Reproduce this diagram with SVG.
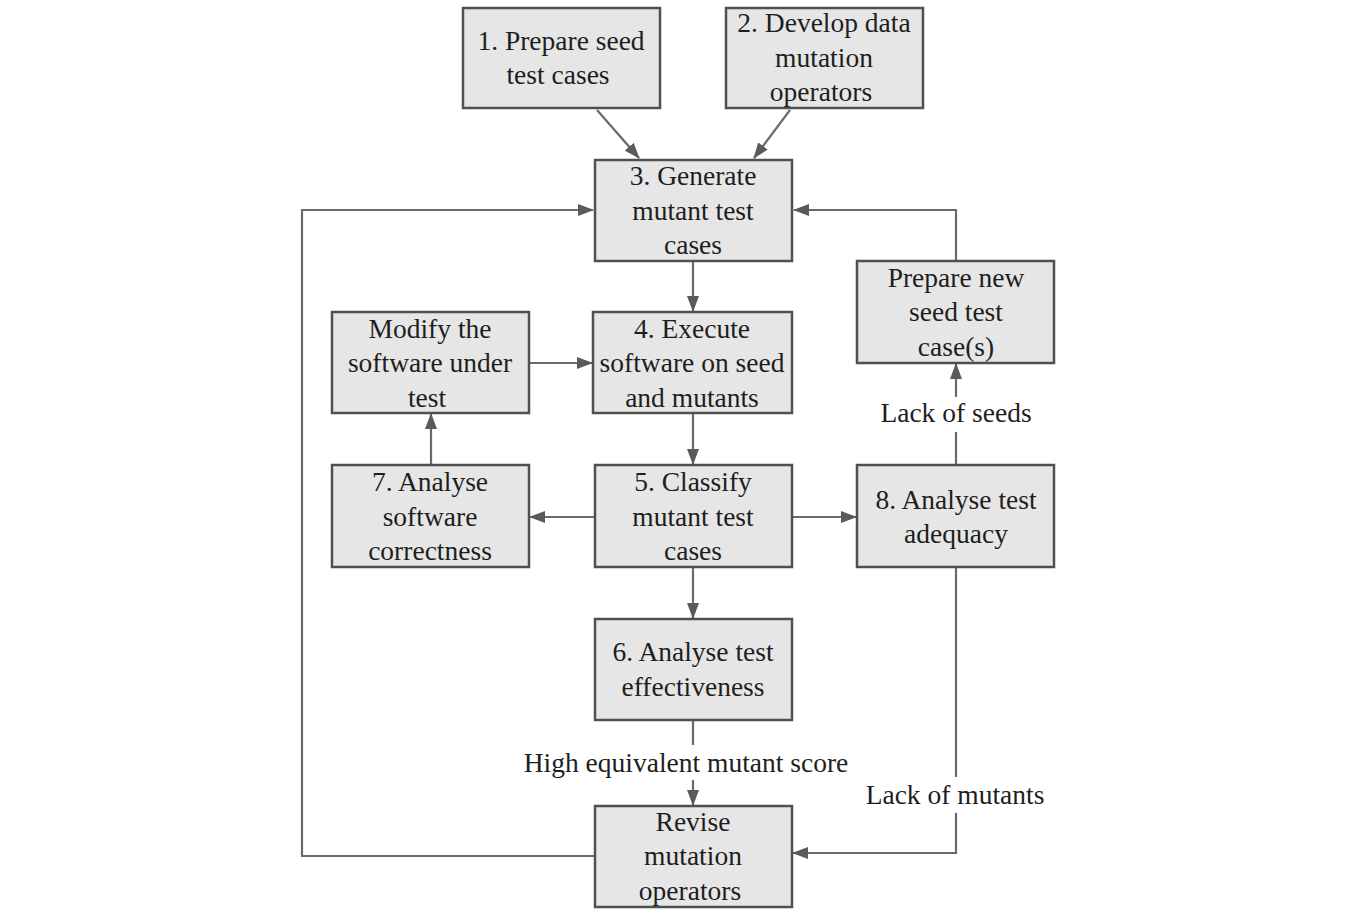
<svg xmlns="http://www.w3.org/2000/svg" width="1350" height="915" viewBox="0 0 1350 915">
<style>
.box{fill:#e6e6e6;stroke:#505050;stroke-width:2.5}
.t{font-family:"Liberation Serif","Times New Roman",serif;font-size:27.5px;fill:#1e1e1e;text-anchor:middle}
.c{fill:none;stroke:#6a6a6a;stroke-width:2.2}
</style>
<defs>
<marker id="ah" markerWidth="16" markerHeight="12" refX="15" refY="6" orient="auto" markerUnits="userSpaceOnUse">
<path d="M0,0 L16,6 L0,12 Z" fill="#5a5a5a"/>
</marker>
</defs>
<rect width="1350" height="915" fill="#ffffff"/>
<g id="connectors">
<line class="c" x1="597" y1="110" x2="639" y2="158" marker-end="url(#ah)"/>
<line class="c" x1="790" y1="110" x2="754" y2="158" marker-end="url(#ah)"/>
<polyline class="c" points="595,856 302,856 302,210 593,210" marker-end="url(#ah)"/>
<polyline class="c" points="956,261 956,210 794,210" marker-end="url(#ah)"/>
<line class="c" x1="693" y1="262" x2="693" y2="311" marker-end="url(#ah)"/>
<line class="c" x1="530" y1="363" x2="592" y2="363" marker-end="url(#ah)"/>
<line class="c" x1="693" y1="414" x2="693" y2="464" marker-end="url(#ah)"/>
<line class="c" x1="595" y1="517" x2="530" y2="517" marker-end="url(#ah)"/>
<line class="c" x1="431" y1="465" x2="431" y2="414" marker-end="url(#ah)"/>
<line class="c" x1="792" y1="517" x2="856" y2="517" marker-end="url(#ah)"/>
<line class="c" x1="956" y1="465" x2="956" y2="432"/>
<line class="c" x1="956" y1="397" x2="956" y2="364" marker-end="url(#ah)"/>
<line class="c" x1="956" y1="568" x2="956" y2="777"/>
<polyline class="c" points="956,813 956,853 793,853" marker-end="url(#ah)"/>
<line class="c" x1="693" y1="568" x2="693" y2="618" marker-end="url(#ah)"/>
<line class="c" x1="693" y1="721" x2="693" y2="745"/>
<line class="c" x1="693" y1="780" x2="693" y2="805" marker-end="url(#ah)"/>
<text class="t" x="686" y="772">High equivalent mutant score</text>
<text class="t" x="956" y="422">Lack of seeds</text>
<text class="t" x="955" y="804">Lack of mutants</text>
</g>
<g id="n1"><rect class="box" x="463" y="8" width="197" height="100"/>
<text class="t" x="561" y="50">1. Prepare seed</text><text class="t" x="558" y="84">test cases</text></g>
<g id="n2"><rect class="box" x="726" y="8" width="197" height="100"/>
<text class="t" x="824" y="32">2. Develop data</text><text class="t" x="824" y="67">mutation</text><text class="t" x="821" y="101">operators</text></g>
<g id="n3"><rect class="box" x="595" y="160" width="197" height="101"/>
<text class="t" x="693" y="185">3. Generate</text><text class="t" x="693" y="220">mutant test</text><text class="t" x="693" y="254">cases</text></g>
<g id="n4"><rect class="box" x="593" y="312" width="199" height="101"/>
<text class="t" x="692" y="338">4. Execute</text><text class="t" x="692" y="372">software on seed</text><text class="t" x="692" y="407">and mutants</text></g>
<g id="nmod"><rect class="box" x="332" y="312" width="197" height="101"/>
<text class="t" x="430" y="338">Modify the</text><text class="t" x="430" y="372">software under</text><text class="t" x="427" y="407">test</text></g>
<g id="n5"><rect class="box" x="595" y="465" width="197" height="102"/>
<text class="t" x="693" y="491">5. Classify</text><text class="t" x="693" y="526">mutant test</text><text class="t" x="693" y="560">cases</text></g>
<g id="n7"><rect class="box" x="332" y="465" width="197" height="102"/>
<text class="t" x="430" y="491">7. Analyse</text><text class="t" x="430" y="526">software</text><text class="t" x="430" y="560">correctness</text></g>
<g id="n8"><rect class="box" x="857" y="465" width="197" height="102"/>
<text class="t" x="956" y="509">8. Analyse test</text><text class="t" x="956" y="543">adequacy</text></g>
<g id="nnew"><rect class="box" x="857" y="261" width="197" height="102"/>
<text class="t" x="956" y="287">Prepare new</text><text class="t" x="956" y="321">seed test</text><text class="t" x="956" y="356">case(s)</text></g>
<g id="n6"><rect class="box" x="595" y="619" width="197" height="101"/>
<text class="t" x="693" y="661">6. Analyse test</text><text class="t" x="693" y="696">effectiveness</text></g>
<g id="nrev"><rect class="box" x="595" y="806" width="197" height="101"/>
<text class="t" x="693" y="831">Revise</text><text class="t" x="693" y="865">mutation</text><text class="t" x="690" y="900">operators</text></g>
</svg>
